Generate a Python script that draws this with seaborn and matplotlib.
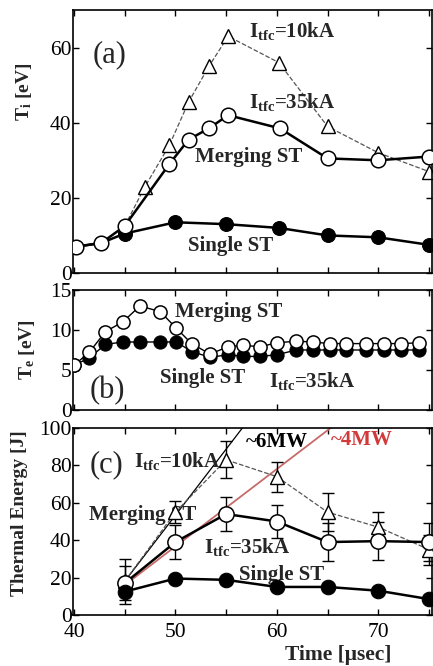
import matplotlib
matplotlib.use("Agg")
import matplotlib.pyplot as plt
import seaborn as sns
import numpy as np
from matplotlib.ticker import MultipleLocator

# ---------------- data ----------------
# (a) ion temperature
ti_merge_t = [40.2, 42.7, 45.0, 49.4, 51.3, 53.3, 55.2, 60.3, 65.0, 70.0, 75.0]
ti_merge_v = [7.0, 8.0, 12.5, 29.0, 35.5, 38.5, 42.0, 38.5, 30.5, 30.0, 31.0]
ti_10ka_t = [45.0, 47.0, 49.4, 51.3, 53.3, 55.2, 60.2, 65.0, 70.0, 75.0]
ti_10ka_v = [12.5, 23.0, 34.0, 45.5, 55.0, 63.0, 56.0, 39.0, 32.0, 27.0]
ti_single_t = [40.2, 42.7, 45.0, 50.0, 55.0, 60.2, 65.0, 70.0, 75.0]
ti_single_v = [7.0, 8.0, 10.5, 13.5, 13.0, 12.0, 10.0, 9.5, 7.5]

# (b) electron temperature
te_t = [40.0, 41.5, 43.1, 44.8, 46.5, 48.5, 50.1, 51.6, 53.4, 55.2, 56.7,
        58.3, 60.0, 61.9, 63.6, 65.2, 66.8, 68.8, 70.6, 72.2, 74.0]
te_merge_v = [5.6, 7.2, 9.8, 11.0, 13.0, 12.3, 10.2, 8.3, 7.0, 7.9, 8.1,
              7.9, 8.4, 8.6, 8.5, 8.3, 8.3, 8.3, 8.3, 8.3, 8.4]
te_single_v = [5.6, 6.5, 8.2, 8.5, 8.5, 8.5, 8.5, 7.3, 6.6, 6.9, 6.7,
               6.7, 6.9, 7.5, 7.5, 7.5, 7.5, 7.5, 7.5, 7.5, 7.5]

# (c) thermal energy
we_t = [45, 50, 55, 60, 65, 70, 75]
we_merge_v = [17, 39, 54, 50, 39, 39.5, 39]
we_merge_e = [9, 9, 9, 9, 10, 10, 10]
we_10ka_v = [18, 55, 83, 74, 55, 47, 35]
we_10ka_e = [12, 6, 10, 8, 10, 8, 8]
we_single_v = [12.5, 19.5, 18.8, 15.0, 15.0, 13.0, 8.5]
fit6_t = [45.0, 56.6]
fit6_v = [18.0, 100.0]
fit4_t = [45.0, 65.3]
fit4_v = [16.0, 100.0]

# ---------------- style ----------------
sns.set_style("ticks")
plt.rcParams["font.family"] = ["Liberation Serif", "DejaVu Serif"]
plt.rcParams["mathtext.fontset"] = "custom"
plt.rcParams["mathtext.rm"] = "Liberation Serif"
plt.rcParams["mathtext.bf"] = "Liberation Serif:bold"
plt.rcParams["mathtext.it"] = "Liberation Serif:italic"

fig = plt.figure(figsize=(4.33, 6.66), dpi=100)
W, H = 433.0, 666.0
left = 73 / W
width = (432 - 73) / W

def make_ax(top_px, bot_px):
    return fig.add_axes([left, (H - bot_px) / H, width, (bot_px - top_px) / H])

axa = make_ax(10, 273)
axb = make_ax(290, 410)
axc = make_ax(428, 615)

TICK_FS = 15.5
LBL_FS = 15

for ax in (axa, axb, axc):
    ax.set_xlim(39.9, 75.3)
    ax.xaxis.set_major_locator(MultipleLocator(10))
    ax.xaxis.set_minor_locator(MultipleLocator(5))
    ax.tick_params(which="both", direction="in", length=4, width=1.0,
                   top=True, right=True, labelsize=TICK_FS, colors="black")
    ax.tick_params(axis="y", pad=1)
    ax.tick_params(axis="x", pad=6)
    for s in ax.spines.values():
        s.set_linewidth(1.2)
        s.set_color("black")
    ax.set_xlabel("")
    ax.set_ylabel("")

for ax in (axa, axb):
    ax.tick_params(axis="x", which="both", labelbottom=False)

open_kw = dict(marker="o", markerfacecolor="white", markeredgecolor="black",
               markeredgewidth=1.1, color="black")
fill_kw = dict(marker="o", markerfacecolor="black", markeredgecolor="black",
               color="black")
tri_kw = dict(marker="^", markerfacecolor="white", markeredgecolor="black",
              markeredgewidth=1.0, color="#555555", linestyle="--",
              dashes=(4, 2.5))

# ---------------- (a) ----------------
sns.lineplot(x=ti_single_t, y=ti_single_v, ax=axa, linewidth=1.8,
             markersize=10, zorder=3, **fill_kw)
sns.lineplot(x=ti_10ka_t, y=ti_10ka_v, ax=axa, linewidth=0.9,
             markersize=9.5, zorder=2, **tri_kw)
sns.lineplot(x=ti_merge_t, y=ti_merge_v, ax=axa, linewidth=1.8,
             markersize=10.5, zorder=4, **open_kw)
axa.set_ylim(0, 70)
axa.yaxis.set_major_locator(MultipleLocator(20))
axa.set_ylabel(r"$\mathbf{T_i}$ [eV]", fontsize=14, fontweight="bold")
axa.yaxis.set_label_coords(-0.11, 0.69)
axa.text(41.8, 58, "(a)", fontsize=22, va="center", ha="left")
axa.text(57.3, 64.3, r"$\mathbf{I_{tfc}}$=10kA", fontsize=LBL_FS,
         fontweight="bold", va="center", ha="left")
axa.text(57.3, 45.5, r"$\mathbf{I_{tfc}}$=35kA", fontsize=LBL_FS,
         fontweight="bold", va="center", ha="left")
axa.text(51.9, 31, "Merging ST", fontsize=LBL_FS, fontweight="bold",
         va="center", ha="left")
axa.text(51.2, 7.3, "Single ST", fontsize=LBL_FS, fontweight="bold",
         va="center", ha="left")

# ---------------- (b) ----------------
sns.lineplot(x=te_t, y=te_single_v, ax=axb, linewidth=1.0,
             markersize=9.5, zorder=3, **fill_kw)
sns.lineplot(x=te_t, y=te_merge_v, ax=axb, linewidth=1.0,
             markersize=9.5, zorder=4, **open_kw)
axb.set_ylim(0, 15)
axb.yaxis.set_major_locator(MultipleLocator(5))
axb.set_ylabel(r"$\mathbf{T_e}$ [eV]", fontsize=14, fontweight="bold")
axb.yaxis.set_label_coords(-0.1, 0.5)
axb.text(41.5, 2.4, "(b)", fontsize=22, va="center", ha="left")
axb.text(50.0, 12.3, "Merging ST", fontsize=LBL_FS, fontweight="bold",
         va="center", ha="left")
axb.text(48.5, 4.0, "Single ST", fontsize=LBL_FS, fontweight="bold",
         va="center", ha="left")
axb.text(59.2, 3.6, r"$\mathbf{I_{tfc}}$=35kA", fontsize=LBL_FS,
         fontweight="bold", va="center", ha="left")

# ---------------- (c) ----------------
sns.lineplot(x=fit6_t, y=fit6_v, ax=axc, color="black", linewidth=0.9, zorder=2)
sns.lineplot(x=fit4_t, y=fit4_v, ax=axc, color="#c76a6a", linewidth=1.3, zorder=2)
axc.errorbar(we_t, we_10ka_v, yerr=we_10ka_e, fmt="none", ecolor="black",
             elinewidth=1.0, capsize=4, capthick=1.0, zorder=3)
axc.errorbar(we_t, we_merge_v, yerr=we_merge_e, fmt="none", ecolor="black",
             elinewidth=1.0, capsize=4, capthick=1.0, zorder=3)
sns.lineplot(x=we_t, y=we_10ka_v, ax=axc, linewidth=0.9, markersize=10,
             zorder=4, **tri_kw)
sns.lineplot(x=we_t, y=we_merge_v, ax=axc, linewidth=1.8, markersize=11,
             zorder=5, **open_kw)
sns.lineplot(x=we_t, y=we_single_v, ax=axc, linewidth=1.8, markersize=10.5,
             zorder=6, **fill_kw)
axc.set_ylim(0, 100)
axc.yaxis.set_major_locator(MultipleLocator(20))
axc.set_ylabel("Thermal Energy [J]", fontsize=14, fontweight="bold")
axc.yaxis.set_label_coords(-0.125, 0.545)
axc.set_xlabel("Time [\u03bcsec]", fontsize=15.5, fontweight="bold")
axc.xaxis.set_label_coords(0.74, -0.16)
axc.text(41.5, 80.5, "(c)", fontsize=22, va="center", ha="left")
axc.text(45.9, 82.5, r"$\mathbf{I_{tfc}}$=10kA", fontsize=LBL_FS,
         fontweight="bold", va="center", ha="left")
axc.text(41.5, 53.5, "Merging ST", fontsize=LBL_FS, fontweight="bold",
         va="center", ha="left")
axc.text(52.8, 36.5, r"$\mathbf{I_{tfc}}$=35kA", fontsize=LBL_FS,
         fontweight="bold", va="center", ha="left")
axc.text(56.3, 21.4, "Single ST", fontsize=LBL_FS, fontweight="bold",
         va="center", ha="left")
axc.text(56.9, 92.5, "~6MW", fontsize=LBL_FS, fontweight="bold",
         va="center", ha="left", color="black")
axc.text(65.3, 93.5, "~4MW", fontsize=LBL_FS, fontweight="bold",
         va="center", ha="left", color="#d23a3a")

for ax in (axa, axb, axc):
    leg = ax.get_legend()
    if leg is not None:
        leg.remove()

fig.savefig("out.png", dpi=100)
